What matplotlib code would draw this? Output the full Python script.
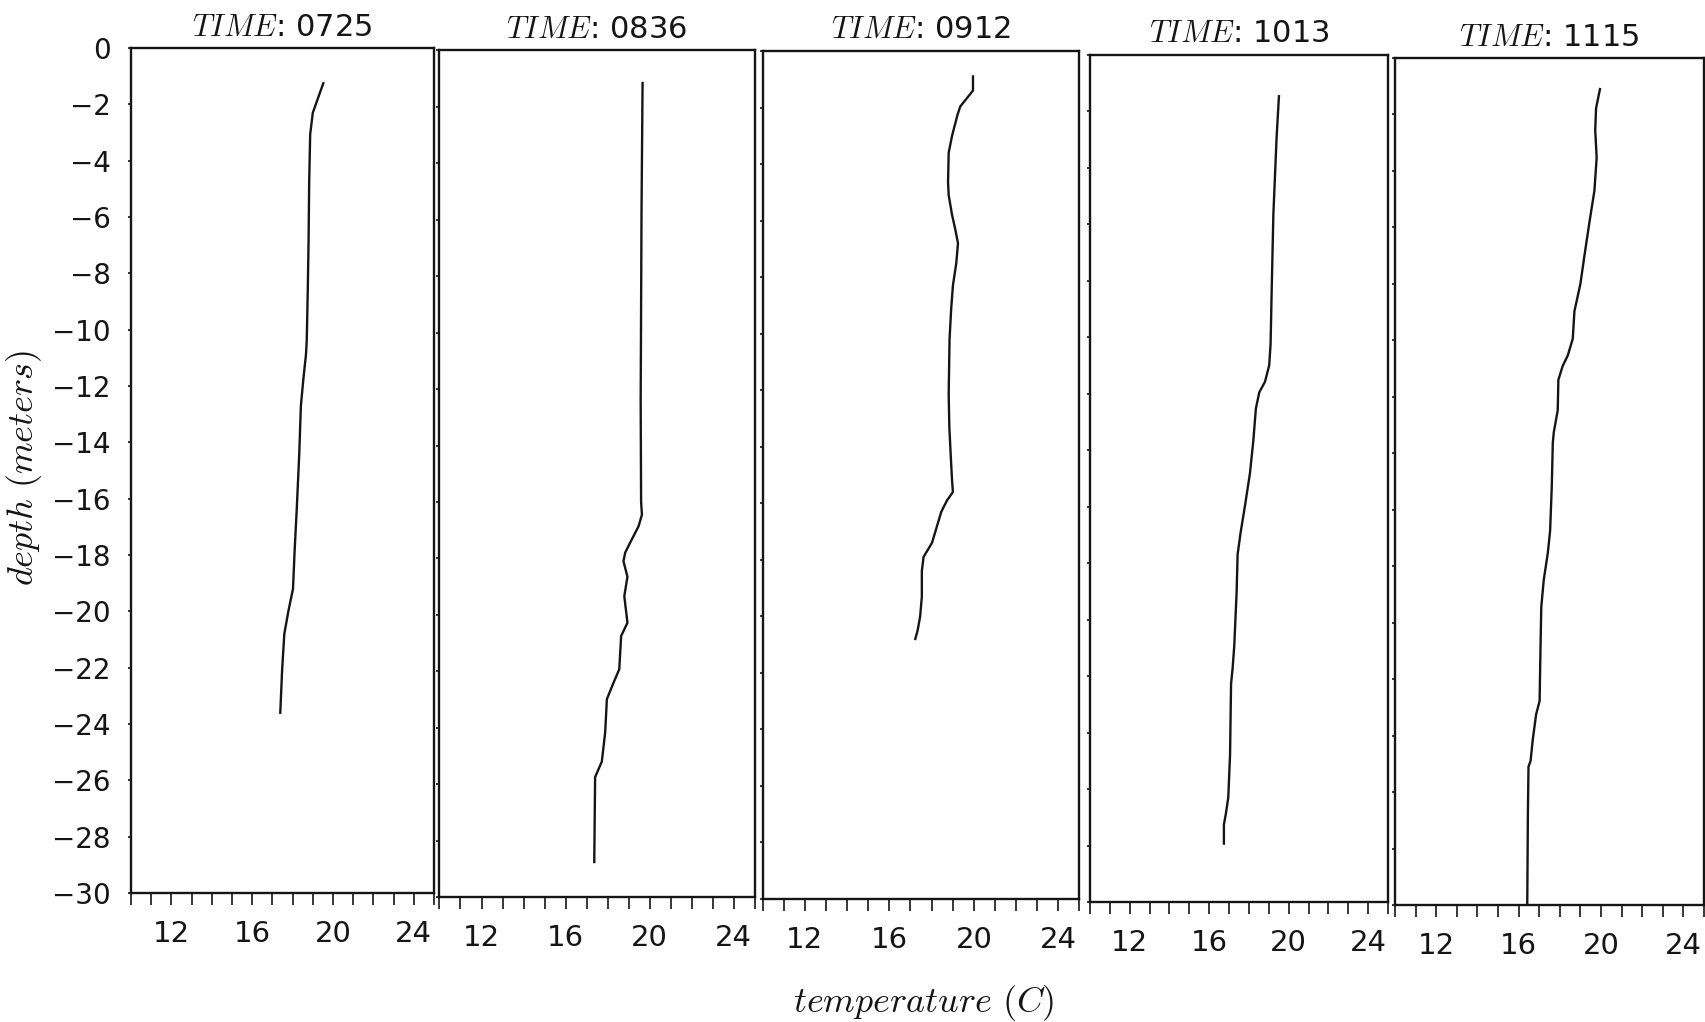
import matplotlib.pyplot as plt
from matplotlib.ticker import MultipleLocator

plt.rcParams['mathtext.fontset'] = 'cm'
plt.rcParams['font.family'] = 'DejaVu Sans'

# Temperature profiles (C) against depth (m), one cast per time
times = ['0725', '0836', '0912', '1013', '1115']

depth_0725 = [-1.25, -2.3, -3.07, -4.8, -6.9, -8.64, -10.4, -10.9, -11.7, -12.7,
              -14.4, -16.3, -17.85, -19.2, -19.96, -20.8, -22.1, -23.6]
temp_0725 = [19.52, 19.0, 18.87, 18.82, 18.79, 18.75, 18.7, 18.66, 18.54, 18.41,
             18.33, 18.21, 18.1, 18.02, 17.8, 17.59, 17.48, 17.39]

depth_0836 = [-1.15, -5.7, -12.4, -16.0, -16.45, -16.86, -17.44, -17.8, -18.1, -18.65,
              -19.34, -20.28, -20.75, -21.93, -22.4, -22.99, -24.16, -25.2, -25.75, -28.76]
temp_0836 = [19.67, 19.62, 19.58, 19.60, 19.64, 19.48, 19.08, 18.84, 18.76, 18.95,
             18.80, 18.95, 18.65, 18.56, 18.29, 17.97, 17.89, 17.73, 17.41, 17.37]

depth_0912 = [-0.9, -1.4, -1.96, -2.25, -3.0, -3.6, -4.65, -5.1, -5.8, -6.3,
              -6.8, -7.5, -8.3, -9.1, -10.2, -12.15, -13.3, -14.5, -15.2, -15.6,
              -15.9, -16.3, -16.8, -17.4, -17.6, -17.9, -18.4, -19.3, -20.0, -20.5, -20.8]
temp_0912 = [19.96, 19.96, 19.36, 19.23, 18.97, 18.81, 18.78, 18.81, 18.97, 19.12,
             19.25, 19.17, 19.01, 18.93, 18.85, 18.81, 18.84, 18.92, 18.97, 19.01,
             18.73, 18.46, 18.26, 18.02, 17.86, 17.62, 17.54, 17.54, 17.46, 17.34, 17.23]

depth_1013 = [-1.46, -2.96, -5.64, -8.5, -10.23, -10.99, -11.57, -11.95, -12.52, -13.67,
              -14.82, -15.97, -16.92, -17.69, -19.03, -20.94, -21.71, -22.28, -24.77, -26.3,
              -26.87, -27.26, -27.93]
temp_1013 = [19.51, 19.39, 19.23, 19.14, 19.09, 19.02, 18.81, 18.52, 18.35, 18.22,
             18.05, 17.80, 17.58, 17.43, 17.38, 17.26, 17.18, 17.10, 17.05, 16.96,
             16.84, 16.74, 16.74]

depth_1115 = [-1.10, -1.78, -2.56, -3.53, -4.70, -5.86, -7.03, -8.0, -8.97, -9.94,
              -10.53, -10.91, -11.4, -12.47, -13.25, -13.63, -15.19, -16.74, -17.52, -18.49,
              -19.46, -21.02, -22.77, -23.25, -24.13, -24.9, -25.1, -26.85, -30.0]
temp_1115 = [19.95, 19.76, 19.72, 19.79, 19.68, 19.43, 19.19, 19.0, 18.71, 18.63,
             18.39, 18.14, 17.93, 17.90, 17.71, 17.66, 17.61, 17.53, 17.42, 17.22,
             17.10, 17.06, 17.02, 16.85, 16.69, 16.58, 16.48, 16.45, 16.42]

profiles = [(temp_0725, depth_0725), (temp_0836, depth_0836), (temp_0912, depth_0912),
            (temp_1013, depth_1013), (temp_1115, depth_1115)]

x_ticks = [12, 16, 20, 24]
y_ticks = list(range(0, -31, -2))

W, H = 1705, 1022
fig = plt.figure(figsize=(W / 100, H / 100), dpi=100)

# panel boxes in pixels: left, width, top, bottom
boxes = [(131, 303, 48, 893), (439.5, 315, 50.5, 897), (762.5, 317, 51, 899),
         (1090, 298, 55, 902), (1395, 309, 58, 905)]

ink = '#151515'
for i, (t, (temp, depth)) in enumerate(zip(times, profiles)):
    left, width, top, bottom = boxes[i]
    ax = fig.add_axes([left / W, 1 - bottom / H, width / W, (bottom - top) / H])
    ax.plot(temp, depth, color=ink, lw=1.7)
    ax.set_xlim(10, 25)
    ax.set_ylim(-30, 0)
    ax.set_xticks(x_ticks)
    ax.xaxis.set_minor_locator(MultipleLocator(1))
    ax.set_yticks(y_ticks)
    ax.tick_params(axis='x', which='both', direction='out', length=8.5, width=1.2,
                   labelsize=21, pad=11, colors=ink)
    ax.tick_params(axis='y', which='both', direction='out', length=2.5, width=1.2,
                   labelsize=20, pad=12, colors=ink)
    if i > 0:
        ax.set_yticklabels([])
    for sp in ax.spines.values():
        sp.set_linewidth(1.7)
        sp.set_color(ink)
    ax.set_title(r'$TIME$: ' + t, fontsize=22, pad=9, color=ink)

fig.text(24 / W, 1 - 468 / H, r'$depth\ (meters)$', rotation=90,
         ha='center', va='center', fontsize=26, color=ink)
fig.text(924 / W, 1 - 1003 / H, r'$temperature\ (C)$',
         ha='center', va='center', fontsize=26, color=ink)

fig.savefig('out.png', dpi=100, facecolor='white')
